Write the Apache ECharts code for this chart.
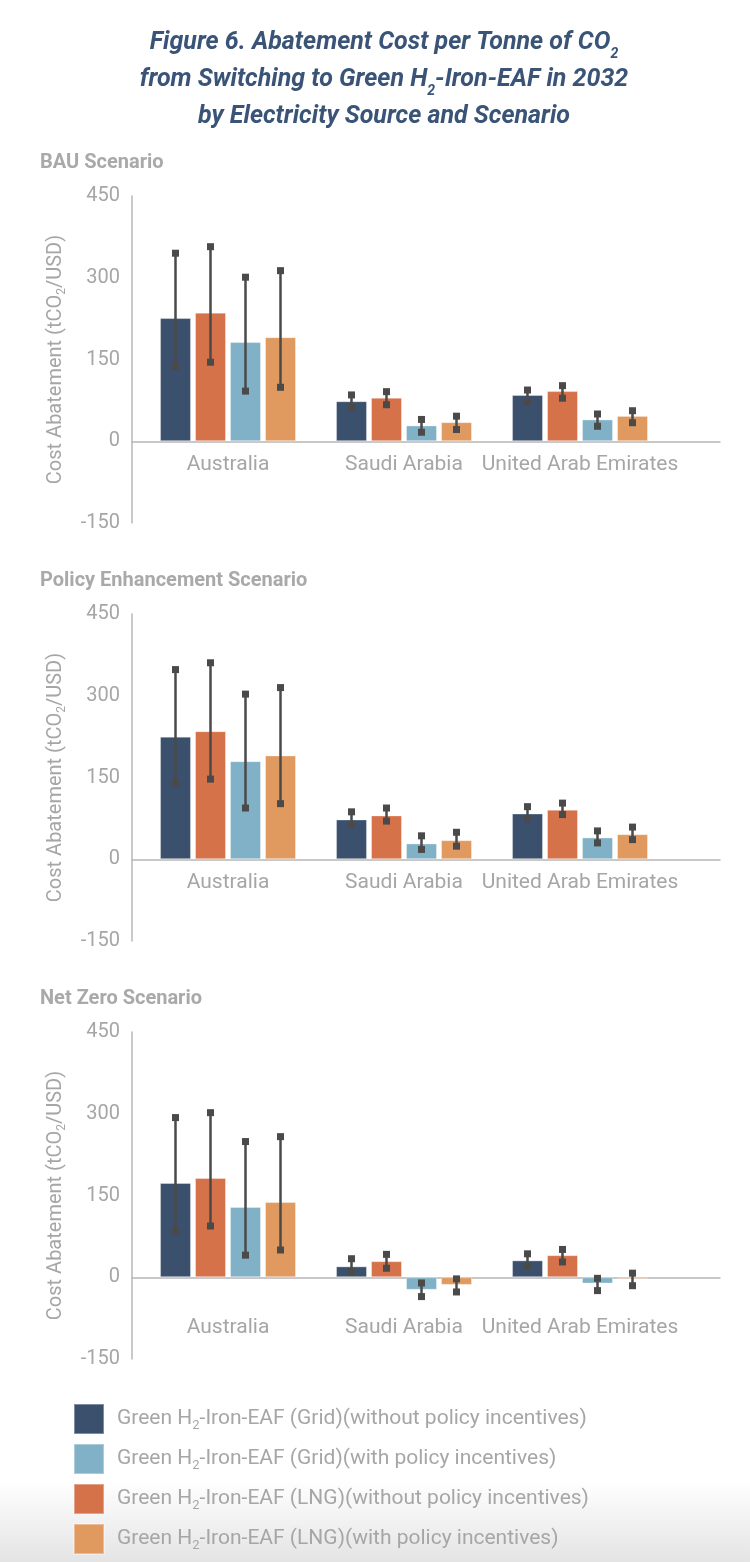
<!DOCTYPE html>
<html>
<head>
<meta charset="utf-8">
<script src="https://cdn.jsdelivr.net/npm/echarts@6/dist/echarts.min.js"></script>
<style>
html,body{margin:0;padding:0;background:#ffffff;}
#chart{width:750px;height:1562px;}
</style>
</head>
<body>
<div id="chart"></div>
<script>
// ---------- DATA ----------
const categories = ['Australia', 'Saudi Arabia', 'United Arab Emirates'];
// series in bar order (left to right within each category)
const seriesNames = [
  'Green H2-Iron-EAF (Grid)(without policy incentives)',
  'Green H2-Iron-EAF (LNG)(without policy incentives)',
  'Green H2-Iron-EAF (Grid)(with policy incentives)',
  'Green H2-Iron-EAF (LNG)(with policy incentives)'
];
const legendOrder = [0, 2, 1, 3];
const scenarioTitles = ['BAU Scenario', 'Policy Enhancement Scenario', 'Net Zero Scenario'];
const yTicks = [-150, 0, 150, 300, 450];

// values[series][category]
const bauValue = [[226, 73.5, 85], [236, 80, 92], [182, 29, 40], [191, 35, 46.5]];
const bauLow   = [[138, 61, 72], [145, 67, 79], [92, 16.5, 27.5], [99, 21.5, 34]];
const bauHigh  = [[345, 85, 94], [357, 91, 102], [301, 40, 50], [313, 46, 56]];

const policyValue = [[225, 73, 84], [235, 80.5, 91], [180, 29, 40], [190.5, 35, 46]];
const policyLow   = [[140, 64, 74.5], [147, 70, 82], [94, 18, 30], [102, 24, 36]];
const policyHigh  = [[348, 87, 96.5], [360.5, 94, 103], [303, 43, 52], [315, 49.5, 59]];

const netZeroValue = [[173, 20, 31], [182, 29.5, 40.5], [129, -23, -11.5], [138, -14, -3]];
const netZeroLow   = [[85, 9, 20], [94, 16.5, 28], [40.5, -35.5, -24.5], [50, -27, -15.5]];
const netZeroHigh  = [[293, 34, 43], [302, 42, 51], [249, -10.5, -2], [258, -3, 7.5]];

// ---------- STYLE / LAYOUT ----------
const colors = ['#3a506c', '#d5724a', '#80b1c6', '#e09a5f'];
const scenarios = [
  { value: bauValue, low: bauLow, high: bauHigh },
  { value: policyValue, low: policyLow, high: policyHigh },
  { value: netZeroValue, low: netZeroLow, high: netZeroHigh }
];
const FONT = 'Roboto';
const GRAY = '#a6a6a6';
const AXIS = '#b7b7b7';
const TITLE = '#3a5478';
const TOPS = [196, 614, 1032];
const LABEL_MARGINS = [13, 13, 40];
const H = 327;
const BAR_W = 31;
const BAR_GAP = 4;
const Y_MIN = yTicks[0], Y_MAX = yTicks[yTicks.length - 1];
const ZERO_FROM_BOTTOM = H * (0 - Y_MIN) / (Y_MAX - Y_MIN);

const grids = [], xAxes = [], yAxes = [], series = [], titles = [];

titles.push({
  text: 'Figure 6. Abatement Cost per Tonne of CO{sub|2}\nfrom Switching to Green H{sub|2}-Iron-EAF in 2032\nby Electricity Source and Scenario',
  left: 384, top: 24, textAlign: 'center', padding: 0,
  textStyle: {
    fontFamily: FONT, fontSize: 25, fontWeight: 'bold', fontStyle: 'italic', color: TITLE, lineHeight: 37,
    rich: { sub: { fontFamily: FONT, fontSize: 14, fontWeight: 'bold', fontStyle: 'italic', color: TITLE, verticalAlign: 'bottom', lineHeight: 17 } }
  }
});

scenarios.forEach((sc, i) => {
  titles.push({
    text: scenarioTitles[i], left: 40, top: TOPS[i] - 43, padding: 0,
    textStyle: { fontFamily: FONT, fontSize: 20, fontWeight: 'bold', color: '#a9a9a9' }
  });
  // axis frame grid (y-axis line + full-width zero line)
  grids.push({ left: 132, right: 30, top: TOPS[i], height: H, containLabel: false });
  // bar grid
  grids.push({ left: 140, width: 528, top: TOPS[i], height: H, containLabel: false });
  const gA = 2 * i, gB = 2 * i + 1;
  xAxes.push({
    gridIndex: gA, type: 'value', min: 0, max: 1,
    axisLine: { show: true, onZero: true, lineStyle: { color: AXIS, width: 1.5 } },
    axisTick: { show: false }, axisLabel: { show: false }, splitLine: { show: false }
  });
  yAxes.push({
    gridIndex: gA, type: 'value', min: Y_MIN, max: Y_MAX, interval: yTicks[1] - yTicks[0],
    axisLine: { show: true, lineStyle: { color: AXIS, width: 1.5 } },
    axisTick: { show: false }, splitLine: { show: false },
    axisLabel: { fontFamily: FONT, fontSize: 20, color: GRAY, margin: 12 },
    name: 'Cost Abatement (tCO{sub|2}/USD)', nameLocation: 'middle', nameRotate: 90, nameGap: 64,
    nameTextStyle: {
      fontFamily: FONT, fontSize: 20, color: GRAY, lineHeight: 24,
      rich: { sub: { fontFamily: FONT, fontSize: 12, color: GRAY, verticalAlign: 'bottom', lineHeight: 10 } }
    }
  });
  xAxes.push({
    gridIndex: gB, type: 'category', data: categories, position: 'bottom',
    offset: -ZERO_FROM_BOTTOM,
    axisLine: { show: false, onZero: false }, axisTick: { show: false },
    axisLabel: { fontFamily: FONT, fontSize: 21, color: GRAY, margin: LABEL_MARGINS[i], interval: 0 }
  });
  yAxes.push({
    gridIndex: gB, type: 'value', min: Y_MIN, max: Y_MAX, interval: yTicks[1] - yTicks[0],
    axisLine: { show: false }, axisTick: { show: false }, axisLabel: { show: false }, splitLine: { show: false }
  });

  seriesNames.forEach((nm, s) => {
    series.push({
      type: 'bar', name: nm, xAxisIndex: gB, yAxisIndex: gB,
      data: sc.value[s], barWidth: BAR_W, barGap: (BAR_GAP / BAR_W * 100).toFixed(1) + '%',
      itemStyle: { color: colors[s], borderColor: 'rgba(255,255,255,0.35)', borderWidth: 1 },
      z: 2
    });
  });

  const errData = [];
  seriesNames.forEach((nm, s) => {
    categories.forEach((c, k) => {
      errData.push([k, sc.low[s][k], sc.high[s][k], s]);
    });
  });
  series.push({
    type: 'custom', xAxisIndex: gB, yAxisIndex: gB, data: errData, z: 5, silent: true,
    encode: { x: 0, y: [1, 2] },
    renderItem: function (params, api) {
      const k = api.value(0), lo = api.value(1), hi = api.value(2), s = api.value(3);
      const n = seriesNames.length;
      const off = (s - (n - 1) / 2) * (BAR_W + BAR_GAP);
      const pLo = api.coord([k, lo]);
      const pHi = api.coord([k, hi]);
      const x = pLo[0] + off;
      const sq = 7;
      const st = { fill: '#4a4a4a' };
      return {
        type: 'group',
        children: [
          { type: 'line', shape: { x1: x, y1: pLo[1], x2: x, y2: pHi[1] }, style: { stroke: '#4a4a4a', lineWidth: 2.5 } },
          { type: 'rect', shape: { x: x - sq / 2, y: pHi[1] - sq / 2, width: sq, height: sq }, style: st },
          { type: 'rect', shape: { x: x - sq / 2, y: pLo[1] - sq / 2, width: sq, height: sq }, style: st }
        ]
      };
    }
  });
});

const option = {
  animation: false,
  backgroundColor: '#ffffff',
  textStyle: { fontFamily: FONT },
  title: titles,
  grid: grids,
  xAxis: xAxes,
  yAxis: yAxes,
  legend: {
    data: legendOrder.map(i => seriesNames[i]),
    orient: 'vertical', left: 73, top: 1403, padding: 0, height: 158,
    itemWidth: 30, itemHeight: 30, itemGap: 8, icon: 'rect',
    formatter: function (name) { return name.replace('H2', 'H{sub|2}'); },
    textStyle: {
      fontFamily: FONT, fontSize: 21, color: GRAY, padding: [0, 0, 0, 8], lineHeight: 26,
      rich: { sub: { fontFamily: FONT, fontSize: 13, color: GRAY, verticalAlign: 'bottom', lineHeight: 10 } }
    }
  },
  graphic: [{
    type: 'rect', z: -10, silent: true,
    shape: { x: 0, y: 1480, width: 750, height: 82 },
    style: { fill: new echarts.graphic.LinearGradient(0, 0, 0, 1, [{ offset: 0, color: '#ffffff' }, { offset: 1, color: '#e4e4e4' }]) }
  }],
  series: series
};

const chart = echarts.init(document.getElementById('chart'), null, { renderer: 'canvas' });
chart.setOption(option);
</script>
</body>
</html>
